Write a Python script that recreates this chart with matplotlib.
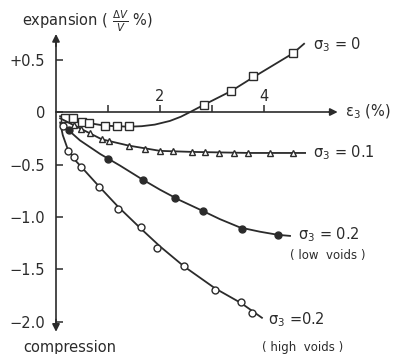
import matplotlib
matplotlib.use("Agg")
import matplotlib.pyplot as plt

# ---- data ----
# sigma3 = 0 (open squares)
s0_x = [0.17, 0.33, 0.50, 0.63, 0.94, 1.17, 1.40, 2.85, 3.37, 3.79, 4.56]
s0_y = [-0.057, -0.057, -0.095, -0.105, -0.133, -0.133, -0.133, 0.067, 0.20, 0.34, 0.56]
s0_cx = [0.08, 0.27, 0.56, 0.94, 1.40, 1.65, 1.90, 2.19, 2.40, 2.58, 2.85, 3.37, 3.79, 4.56, 4.77]
s0_cy = [-0.04, -0.07, -0.10, -0.13, -0.14, -0.135, -0.12, -0.085, -0.045, 0.0, 0.07, 0.20, 0.33, 0.56, 0.65]

# sigma3 = 0.1 (open triangles)
s1_x = [0.35, 0.48, 0.65, 0.88, 1.02, 1.40, 1.71, 2.00, 2.25, 2.62, 2.87, 3.13, 3.42, 3.69, 4.12, 4.56]
s1_y = [-0.12, -0.16, -0.20, -0.26, -0.28, -0.32, -0.35, -0.37, -0.37, -0.38, -0.38, -0.39, -0.39, -0.39, -0.39, -0.39]
s1_cx = [0.08, 0.48, 0.88, 1.40, 2.00, 2.62, 3.73, 4.79]
s1_cy = [-0.06, -0.16, -0.26, -0.32, -0.37, -0.38, -0.39, -0.39]

# sigma3 = 0.2 low voids (filled circles)
s2l_x = [0.25, 1.00, 1.67, 2.29, 2.83, 3.58, 4.27]
s2l_y = [-0.17, -0.45, -0.65, -0.82, -0.94, -1.11, -1.17]
s2l_cx = [0.12, 0.46, 0.85, 1.23, 1.62, 2.00, 2.38, 2.77, 3.15, 3.54, 3.92, 4.27, 4.50]
s2l_cy = [-0.12, -0.27, -0.40, -0.51, -0.63, -0.74, -0.84, -0.93, -1.02, -1.10, -1.14, -1.17, -1.18]

# sigma3 = 0.2 high voids (open circles)
s2h_x = [0.13, 0.23, 0.35, 0.48, 0.83, 1.19, 1.63, 1.94, 2.46, 3.06, 3.56, 3.77]
s2h_y = [-0.13, -0.37, -0.43, -0.52, -0.71, -0.92, -1.10, -1.30, -1.47, -1.70, -1.81, -1.91]
s2h_cx = [0.08, 0.13, 0.23, 0.37, 0.50, 0.83, 1.19, 1.63, 2.00, 2.46, 3.06, 3.56, 3.96]
s2h_cy = [-0.10, -0.22, -0.36, -0.46, -0.53, -0.71, -0.90, -1.11, -1.28, -1.47, -1.68, -1.82, -1.96]

yticks = [0.5, 0, -0.5, -1.0, -1.5, -2.0]
ytick_labels = ["+0.5", "0", "\u22120.5", "\u22121.0", "\u22121.5", "\u22122.0"]
xticks = [1, 2, 3, 4]
xtick_labels = {2: "2", 4: "4"}

C = "#2b2b2b"
FS = 10.5

fig = plt.figure(figsize=(3.95, 3.54), dpi=100)
ax = fig.add_axes([0, 0, 1, 1])
ax.set_xlim(-1.077, 6.519)
ax.set_ylim(-2.305, 1.067)
ax.patch.set_alpha(0)

for s in ("top", "right"):
    ax.spines[s].set_visible(False)
ax.spines["left"].set_position(("data", 0))
ax.spines["bottom"].set_position(("data", 0))
ax.spines["left"].set_bounds(-2.05, 0.70)
ax.spines["bottom"].set_bounds(0, 5.35)
for s in ("left", "bottom"):
    ax.spines[s].set_color(C)
    ax.spines[s].set_linewidth(1.2)

ax.set_xticks(xticks)
ax.set_xticklabels([])
ax.set_yticks(yticks)
ax.set_yticklabels(ytick_labels)
ax.tick_params(axis="x", direction="in", length=5, width=1.1, color=C)
ax.tick_params(axis="y", direction="in", length=5, width=1.1, color=C,
               pad=8, labelsize=FS, labelcolor=C)

# arrowheads
arr = dict(arrowstyle="-|>", color=C, lw=1.2, mutation_scale=11)
ax.annotate("", xy=(0, 0.77), xytext=(0, 0.6), arrowprops=arr)
ax.annotate("", xy=(0, -2.12), xytext=(0, -1.95), arrowprops=arr)
ax.annotate("", xy=(5.47, 0), xytext=(5.2, 0), arrowprops=arr)

for xv, lab in xtick_labels.items():
    ax.text(xv, 0.15, lab, ha="center", va="center", fontsize=FS, color=C)

lw = 1.3
ax.plot(s0_cx, s0_cy, color=C, lw=lw)
ax.plot(s0_x, s0_y, ls="none", marker="s", ms=5.8, mfc="white", mec=C, mew=1.0)
ax.plot(s1_cx, s1_cy, color=C, lw=lw)
ax.plot(s1_x, s1_y, ls="none", marker="^", ms=4.2, mfc="white", mec=C, mew=1.0)
ax.plot(s2l_cx, s2l_cy, color=C, lw=lw)
ax.plot(s2l_x, s2l_y, ls="none", marker="o", ms=5, mfc=C, mec=C, mew=1.0)
ax.plot(s2h_cx, s2h_cy, color=C, lw=lw)
ax.plot(s2h_x, s2h_y, ls="none", marker="o", ms=5, mfc="white", mec=C, mew=1.0)

# labels
ax.text(-0.65, 0.86, r"expansion ( $\frac{\Delta V}{V}$ %)", ha="left", va="center",
        fontsize=FS, color=C)
ax.text(-0.63, -2.24, "compression", ha="left", va="center", fontsize=FS, color=C)
ax.text(5.56, 0.0, "\u03b5$_3$ (%)", ha="left", va="center", fontsize=FS, color=C)
ax.text(4.94, 0.64, "\u03c3$_3$ = 0", ha="left", va="center", fontsize=FS, color=C)
ax.text(4.94, -0.39, "\u03c3$_3$ = 0.1", ha="left", va="center", fontsize=FS, color=C)
ax.text(4.65, -1.17, "\u03c3$_3$ = 0.2", ha="left", va="center", fontsize=FS, color=C)
ax.text(4.50, -1.37, "( low  voids )", ha="left", va="center", fontsize=8.5, color=C)
ax.text(4.08, -1.98, "\u03c3$_3$ =0.2", ha="left", va="center", fontsize=FS, color=C)
ax.text(3.96, -2.24, "( high  voids )", ha="left", va="center", fontsize=8.5, color=C)

fig.savefig("out.png", dpi=100)
